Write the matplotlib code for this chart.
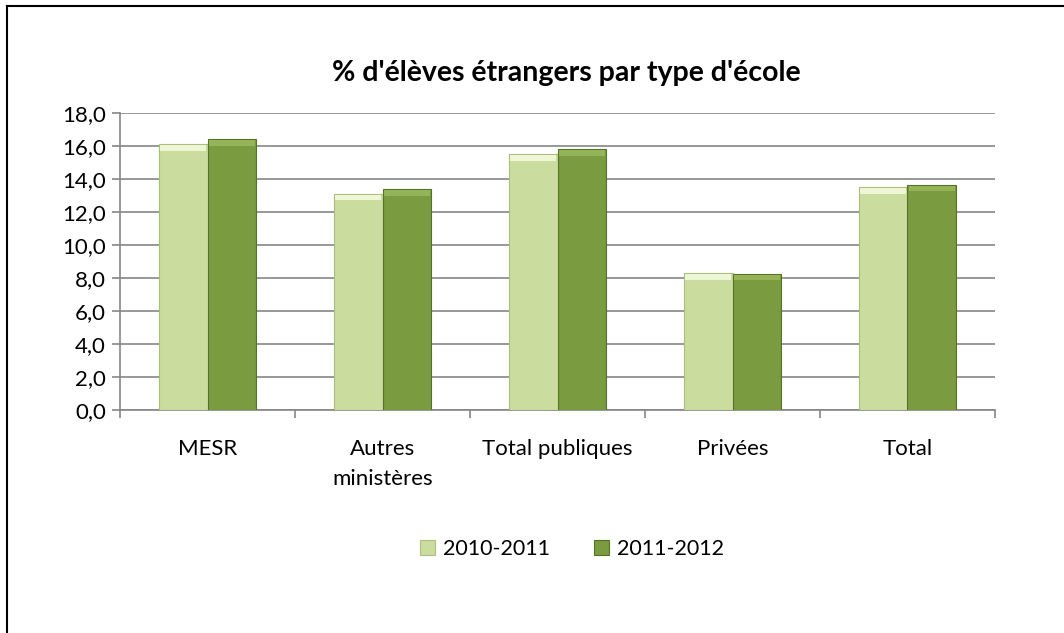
import matplotlib
matplotlib.use("Agg")
import matplotlib.pyplot as plt
import numpy as np
from matplotlib.lines import Line2D
from matplotlib.ticker import FuncFormatter, FixedLocator

plt.rcParams['font.family'] = ['Lato', 'DejaVu Sans']

categories = ["MESR", "Autres\nministères", "Total publiques", "Privées", "Total"]
series_names = ["2010-2011", "2011-2012"]
values_2010 = [16.1, 13.1, 15.5, 8.3, 13.5]
values_2011 = [16.4, 13.4, 15.8, 8.25, 13.65]
title = "% d'élèves étrangers par type d'école"

light = "#CADD9F"
dark = "#7B9B40"

W, H = 1064, 633
fig = plt.figure(figsize=(W / 100, H / 100), dpi=100)
ax = fig.add_axes([120 / W, 1 - 410 / H, (995 - 120) / W, (410 - 113) / H])

x = np.arange(len(categories))
bw = 0.277
b1 = ax.bar(x - bw / 2, values_2010, bw, color=light, edgecolor="#A9BE7C", linewidth=0.8,
            label=series_names[0], zorder=3)
b2 = ax.bar(x + bw / 2, values_2011, bw, color=dark, edgecolor="#56722A", linewidth=0.8,
            label=series_names[1], zorder=3)
# bevel highlight at top of bars
ax.bar(x - bw / 2, [0.35] * len(x), bw * 0.94, bottom=np.array(values_2010) - 0.4,
       color="#EEF6D6", linewidth=0, zorder=4)
ax.bar(x + bw / 2, [0.35] * len(x), bw * 0.94, bottom=np.array(values_2011) - 0.4,
       color="#95B457", linewidth=0, zorder=4)

ax.set_xlim(-0.5, len(categories) - 0.5)
ax.set_ylim(0, 18)
ax.set_yticks(np.arange(0, 18.1, 2))
ax.yaxis.set_major_formatter(FuncFormatter(lambda v, p: f"{v:.1f}".replace(".", ",")))
ax.grid(axis="y", color="#868686", linewidth=1.2, zorder=0)
ax.set_axisbelow(True)

ax.set_xticks(x)
ax.set_xticklabels(categories, fontsize=16, linespacing=1.6)
ax.xaxis.set_minor_locator(FixedLocator(np.arange(-0.5, len(categories), 1)))
ax.tick_params(axis="x", which="major", length=0, pad=21)
ax.tick_params(axis="x", which="minor", length=6, color="#868686", width=1.2)
ax.tick_params(axis="y", length=6, color="#868686", width=1.2, labelsize=16, pad=4)
for s in ["top", "right"]:
    ax.spines[s].set_visible(False)
for s in ["left", "bottom"]:
    ax.spines[s].set_color("#868686")
    ax.spines[s].set_linewidth(1.2)

fig.text(566 / W, 1 - 73 / H, title, ha="center", va="center", fontsize=20.5, fontweight="bold")

leg = fig.legend(handles=[b1, b2], labels=series_names, loc="center", bbox_to_anchor=(572 / W, 1 - 549 / H),
                 ncol=2, frameon=False, fontsize=15.5, handlelength=0.7, handleheight=0.7,
                 columnspacing=2.0, handletextpad=0.4)

fig.lines.append(Line2D([7 / W, 7 / W], [0, 1 - 6 / H], transform=fig.transFigure, color="black", linewidth=1.5))
fig.lines.append(Line2D([7 / W, 1], [1 - 6 / H, 1 - 6 / H], transform=fig.transFigure, color="black", linewidth=1.5))

fig.savefig("out.png", dpi=100)
